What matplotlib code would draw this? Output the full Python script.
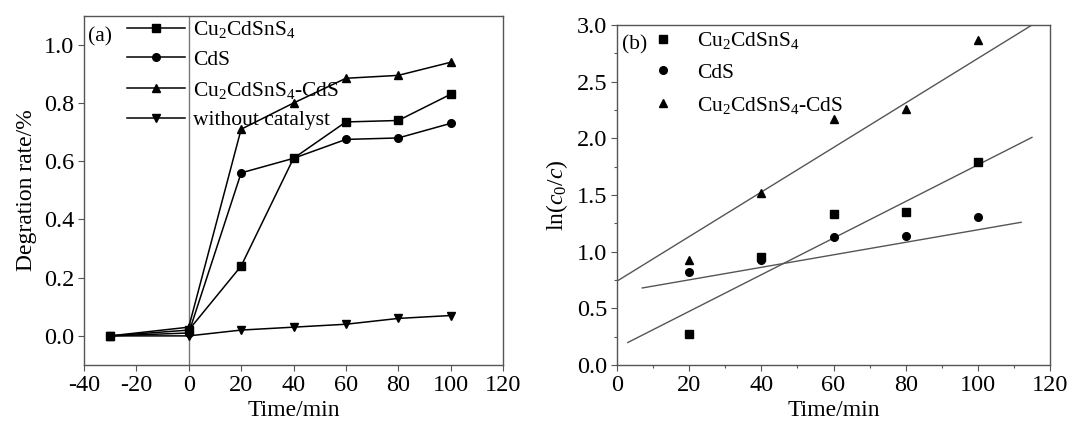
import numpy as np
import matplotlib
matplotlib.use("Agg")
import matplotlib.pyplot as plt

plt.rcParams['font.family'] = ['Liberation Serif', 'DejaVu Serif']
plt.rcParams['mathtext.fontset'] = 'custom'
plt.rcParams['mathtext.rm'] = 'Liberation Serif'
plt.rcParams['mathtext.it'] = 'Liberation Serif:italic'
plt.rcParams['mathtext.bf'] = 'Liberation Serif:bold'
plt.rcParams['axes.unicode_minus'] = False

# ---------- data (a) ----------
time_a = [-30, 0, 20, 40, 60, 80, 100]
rate_ccts = [0.0, 0.02, 0.24, 0.61, 0.735, 0.74, 0.83]
rate_cds = [0.0, 0.01, 0.56, 0.61, 0.675, 0.68, 0.73]
rate_comp = [0.0, 0.03, 0.71, 0.80, 0.885, 0.895, 0.94]
rate_none = [0.0, 0.0, 0.02, 0.03, 0.04, 0.06, 0.07]
labels_a = [r'Cu$_2$CdSnS$_4$', 'CdS', r'Cu$_2$CdSnS$_4$-CdS', 'without catalyst']

# ---------- data (b) ----------
time_b = [20, 40, 60, 80, 100]
ln_ccts = [0.27, 0.95, 1.33, 1.35, 1.79]
ln_cds = [0.82, 0.93, 1.13, 1.14, 1.31]
ln_comp = [0.93, 1.52, 2.17, 2.26, 2.87]
labels_b = [r'Cu$_2$CdSnS$_4$', 'CdS', r'Cu$_2$CdSnS$_4$-CdS']
# fitted lines: (slope, intercept, x_start, x_end)
fit_ccts = (0.01616, 0.15, 3, 115)
fit_cds = (0.00552, 0.641, 7, 112)
fit_comp = (0.01965, 0.74, 0, 115)

FS_TICK = 17.5
FS_LAB = 17
FS_LEG = 15.5
SPINE = '#555555'

fig = plt.figure(figsize=(10.7, 4.25), dpi=100)
ax1 = fig.add_axes([84/1070, 60/425, (503-84)/1070, (365-15.7)/425])
ax2 = fig.add_axes([617/1070, 60/425, (1050-617)/1070, (365-25)/425])

msize = {'s': 5.5, 'o': 5.5, '^': 6, 'v': 6}

# ---------- panel (a) ----------
ax1.axvline(0, color='#777777', lw=1.0, zorder=1)
markers_a = ['s', 'o', '^', 'v']
series_a = [rate_ccts, rate_cds, rate_comp, rate_none]
for ys, mk, lab in zip(series_a, markers_a, labels_a):
    ax1.plot(time_a, ys, color='black', lw=1.1, marker=mk, ms=msize[mk], label=lab, zorder=3)
ax1.set_xlim(-40, 120)
ax1.set_ylim(-0.1, 1.1)
ax1.set_xticks(np.arange(-40, 121, 20))
ax1.set_yticks(np.arange(0, 1.01, 0.2))
ax1.set_yticklabels([f'{v:.1f}' for v in np.arange(0, 1.01, 0.2)])
ax1.set_xlabel('Time/min', fontsize=FS_LAB, labelpad=3)
ax1.set_ylabel('Degration rate/%', fontsize=FS_LAB, labelpad=5)
ax1.text(0.01, 0.939, '(a)', transform=ax1.transAxes, fontsize=FS_LEG, va='center', ha='left')
leg1 = ax1.legend(loc='upper left', bbox_to_anchor=(0.103, 0.99), frameon=False,
                  fontsize=FS_LEG, handlelength=2.7, handletextpad=0.35,
                  labelspacing=0.45, borderpad=0, borderaxespad=0)

# ---------- panel (b) ----------
markers_b = ['s', 'o', '^']
series_b = [ln_ccts, ln_cds, ln_comp]
for ys, mk, lab in zip(series_b, markers_b, labels_b):
    ax2.plot(time_b, ys, ls='none', color='black', marker=mk, ms=msize[mk], label=lab, zorder=3)
for slope, icpt, x0, x1 in [fit_ccts, fit_cds, fit_comp]:
    xs = np.array([x0, x1])
    ax2.plot(xs, slope*xs + icpt, color='#555555', lw=1.0, zorder=2)
ax2.set_xlim(0, 120)
ax2.set_ylim(0, 3.0)
ax2.set_xticks(np.arange(0, 121, 20))
ax2.set_xticks(np.arange(10, 120, 20), minor=True)
ax2.set_yticks(np.arange(0, 3.01, 0.5))
ax2.set_yticks(np.arange(0.25, 3.0, 0.5), minor=True)
ax2.set_yticklabels([f'{v:.1f}' for v in np.arange(0, 3.01, 0.5)])
ax2.set_xlabel('Time/min', fontsize=FS_LAB, labelpad=3)
ax2.set_ylabel(r'ln($c_0$/$c$)', fontsize=FS_LAB, labelpad=5)
ax2.text(0.012, 0.941, '(b)', transform=ax2.transAxes, fontsize=FS_LEG, va='center', ha='left')
leg2 = ax2.legend(loc='upper left', bbox_to_anchor=(0.081, 0.985), frameon=False,
                  fontsize=FS_LEG, handlelength=1.0, handletextpad=1.1,
                  labelspacing=0.55, borderpad=0, borderaxespad=0)

for ax in (ax1, ax2):
    for s in ax.spines.values():
        s.set_color(SPINE)
        s.set_linewidth(1.0)
    ax.tick_params(axis='both', which='major', direction='out', length=4, width=0.8,
                   color=SPINE, labelsize=FS_TICK, top=False, right=False, pad=3)
    ax.tick_params(axis='both', which='minor', direction='out', length=2.5, width=0.8,
                   color=SPINE, top=False, right=False)

fig.savefig('out.png', dpi=100)
